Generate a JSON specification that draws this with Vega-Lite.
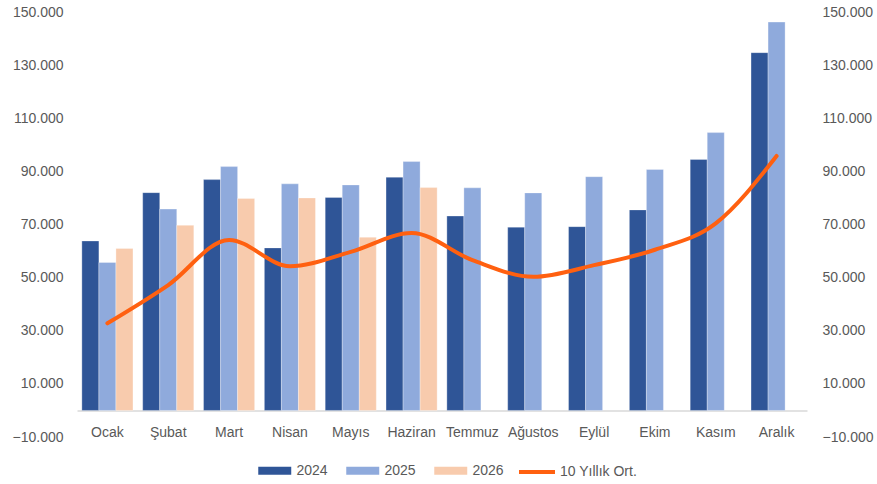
{
  "$schema": "https://vega.github.io/schema/vega-lite/v6.json",
  "width": 730,
  "height": 425,
  "autosize": {"type": "none"},
  "padding": {"left": 77, "top": 12, "right": 70, "bottom": 47},
  "background": "white",
  "config": {
    "view": {"stroke": null},
    "font": "Liberation Sans",
    "axis": {"labelColor": "#595959", "labelFontSize": 14, "grid": false, "ticks": false, "domain": false, "title": null},
    "legend": {"labelColor": "#595959", "labelFontSize": 14}
  },
  "datasets": {
    "bars": [
      {"ay": "Ocak", "yil": "2024", "deger": 63800},
      {"ay": "Ocak", "yil": "2025", "deger": 55700},
      {"ay": "Ocak", "yil": "2026", "deger": 61000},
      {"ay": "Şubat", "yil": "2024", "deger": 82000},
      {"ay": "Şubat", "yil": "2025", "deger": 75800},
      {"ay": "Şubat", "yil": "2026", "deger": 69700},
      {"ay": "Mart", "yil": "2024", "deger": 86900},
      {"ay": "Mart", "yil": "2025", "deger": 91800},
      {"ay": "Mart", "yil": "2026", "deger": 79800},
      {"ay": "Nisan", "yil": "2024", "deger": 61200},
      {"ay": "Nisan", "yil": "2025", "deger": 85300},
      {"ay": "Nisan", "yil": "2026", "deger": 80000},
      {"ay": "Mayıs", "yil": "2024", "deger": 80200},
      {"ay": "Mayıs", "yil": "2025", "deger": 84900},
      {"ay": "Mayıs", "yil": "2026", "deger": 65200},
      {"ay": "Haziran", "yil": "2024", "deger": 87800},
      {"ay": "Haziran", "yil": "2025", "deger": 93700},
      {"ay": "Haziran", "yil": "2026", "deger": 83900},
      {"ay": "Temmuz", "yil": "2024", "deger": 73200},
      {"ay": "Temmuz", "yil": "2025", "deger": 83800},
      {"ay": "Ağustos", "yil": "2024", "deger": 69000},
      {"ay": "Ağustos", "yil": "2025", "deger": 81900},
      {"ay": "Eylül", "yil": "2024", "deger": 69200},
      {"ay": "Eylül", "yil": "2025", "deger": 88000},
      {"ay": "Ekim", "yil": "2024", "deger": 75500},
      {"ay": "Ekim", "yil": "2025", "deger": 90700},
      {"ay": "Kasım", "yil": "2024", "deger": 94500},
      {"ay": "Kasım", "yil": "2025", "deger": 104600},
      {"ay": "Aralık", "yil": "2024", "deger": 134700},
      {"ay": "Aralık", "yil": "2025", "deger": 146200}
    ],
    "line": [
      {"ay": "Ocak", "seri": "10 Yıllık Ort.", "deger": 32800},
      {"ay": "Şubat", "seri": "10 Yıllık Ort.", "deger": 47200},
      {"ay": "Mart", "seri": "10 Yıllık Ort.", "deger": 64200},
      {"ay": "Nisan", "seri": "10 Yıllık Ort.", "deger": 54300},
      {"ay": "Mayıs", "seri": "10 Yıllık Ort.", "deger": 59700},
      {"ay": "Haziran", "seri": "10 Yıllık Ort.", "deger": 66800},
      {"ay": "Temmuz", "seri": "10 Yıllık Ort.", "deger": 56600},
      {"ay": "Ağustos", "seri": "10 Yıllık Ort.", "deger": 50300},
      {"ay": "Eylül", "seri": "10 Yıllık Ort.", "deger": 54700},
      {"ay": "Ekim", "seri": "10 Yıllık Ort.", "deger": 60500},
      {"ay": "Kasım", "seri": "10 Yıllık Ort.", "deger": 70400},
      {"ay": "Aralık", "seri": "10 Yıllık Ort.", "deger": 95800}
    ]
  },
  "encoding": {
    "x": {
      "field": "ay",
      "type": "nominal",
      "sort": ["Ocak", "Şubat", "Mart", "Nisan", "Mayıs", "Haziran", "Temmuz", "Ağustos", "Eylül", "Ekim", "Kasım", "Aralık"],
      "scale": {"paddingInner": 0.16, "paddingOuter": 0.08},
      "axis": {"labelAngle": 0, "domain": true, "domainColor": "#d9d9d9", "domainWidth": 1.5, "offset": -26.6, "labelPadding": 15}
    }
  },
  "layer": [
    {
      "data": {"name": "bars"},
      "mark": {"type": "bar", "stroke": "white", "strokeWidth": 0.5, "strokeOpacity": 0.6},
      "encoding": {
        "xOffset": {"field": "yil", "type": "nominal", "scale": {"domain": ["2024", "2025", "2026"], "paddingInner": 0}},
        "y": {
          "field": "deger",
          "type": "quantitative",
          "scale": {"domain": [-10000, 150000], "nice": false, "zero": false},
          "axis": {"orient": "left", "values": [-10000, 10000, 30000, 50000, 70000, 90000, 110000, 130000, 150000], "format": ",.0f", "labelExpr": "replace(datum.label, ',', '.')", "labelPadding": 14}
        },
        "fill": {
          "field": "yil",
          "type": "nominal",
          "scale": {"domain": ["2024", "2025", "2026"], "range": ["#2F5597", "#8FAADC", "#F8CBAD"]},
          "legend": {"title": null, "orient": "none", "legendX": 181, "legendY": 450, "direction": "horizontal", "symbolType": "M-1,-0.5H3V0.5H-1Z", "symbolSize": 272, "symbolStrokeWidth": 0, "labelOffset": 21.5, "columnPadding": 18}
        }
      }
    },
    {
      "data": {"name": "line"},
      "mark": {"type": "line", "interpolate": "monotone", "strokeWidth": 4, "strokeCap": "round"},
      "encoding": {
        "y": {
          "field": "deger",
          "type": "quantitative",
          "scale": {"domain": [-10000, 150000], "nice": false, "zero": false},
          "axis": {"orient": "right", "values": [-10000, 10000, 30000, 50000, 70000, 90000, 110000, 130000, 150000], "format": ",.0f", "labelExpr": "replace(datum.label, ',', '.')", "labelPadding": 15}
        },
        "stroke": {
          "field": "seri",
          "type": "nominal",
          "scale": {"domain": ["10 Yıllık Ort."], "range": ["#FF6010"]},
          "legend": {"title": null, "orient": "none", "legendX": 440, "legendY": 440, "direction": "horizontal", "symbolType": "stroke", "symbolSize": 1296, "symbolStrokeWidth": 4, "labelOffset": 3}
        }
      }
    }
  ],
  "resolve": {"scale": {"y": "independent"}}
}
